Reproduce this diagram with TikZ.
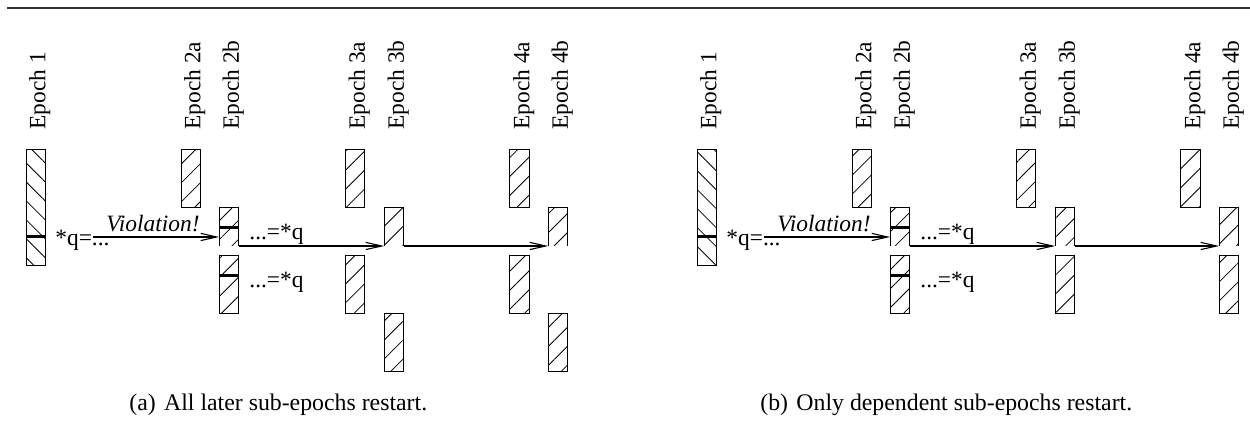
\documentclass[tikz,border=0pt]{standalone}
\usepackage{fontspec}
\setmainfont{Liberation Serif}
\usetikzlibrary{patterns.meta,arrows.meta}
\newcommand\subfig[1]{%
  \node[tallbar] (#1e1) at (26,150) {};
  \node[bar] (#1e2a) at (181,150) {};
  \node[cutbar] (#1e2bu) at (219.25,208) {};
  \node[bar] (#1e2bl) at (219.25,256) {};
  \node[bar] (#1e3au) at (345.25,150) {};
  \node[cutbar] (#1e3bu) at (384.25,208) {};
  \node[bar] (#1e4au) at (509.75,150) {};
  \node[cutbar] (#1e4bu) at (548.25,208) {};
  \foreach \n in {e2bu,e3bu,e4bu}
    \draw[side] (#1\n.south west) -- (#1\n.north west) -- (#1\n.north east) -- (#1\n.south east);
  \draw[mk] (#1e1.west |- 0,237) -- (#1e1.east |- 0,237);
  \draw[mk] (#1e2bu.west |- 0,228) -- (#1e2bu.east |- 0,228);
  \draw[mk] (#1e2bl.west |- 0,276) -- (#1e2bl.east |- 0,276);
  \node[lbl] (#1l1) at (45.3,130) {Epoch 1};
  \node[lbl] (#1l2a) at (200.3,130) {Epoch 2a};
  \node[lbl] (#1l2b) at (238.8,130) {Epoch 2b};
  \node[lbl] (#1l3a) at (364.8,130) {Epoch 3a};
  \node[lbl] (#1l3b) at (403.8,130) {Epoch 3b};
  \node[lbl] (#1l4a) at (529.3,130) {Epoch 4a};
  \node[lbl] (#1l4b) at (567.8,130) {Epoch 4b};
  \node[txt] (#1w) at (55,246) {*q=...};
  \node[txt] (#1v) at (106,232) {\itshape Violation!};
  \node[txt] (#1r1) at (249,240) {...=*q};
  \node[txt] (#1r2) at (249,288) {...=*q};
  \coordinate (#1vs) at (93,237);
  \draw[arr] (#1vs) -- (#1vs -| #1e2bu.west);
  \draw[arr] (#1e2bu.south east) -- (#1e3bu.south west);
  \draw[arr] (#1e3bu.south east) -- (#1e4bu.south west);
}
\begin{document}
\begin{tikzpicture}[x=0.5pt,y=-0.5pt,
  font=\fontsize{11.7}{13}\selectfont,
  hatchF/.style={pattern={Lines[angle=45,distance=6.7pt,line width=0.4pt]}},
  hatchB/.style={pattern={Lines[angle=-45,distance=6.7pt,line width=0.4pt]}},
  bar/.style={draw=black,line width=0.5pt,minimum width=9.75pt,minimum height=29pt,
    inner sep=0pt,outer sep=0pt,anchor=north west,hatchF},
  tallbar/.style={bar,minimum height=58pt,hatchB},
  cutbar/.style={bar,draw=none,minimum height=19pt},
  side/.style={line width=0.5pt},
  mk/.style={line width=1.5pt},
  lbl/.style={rotate=90,anchor=base west,inner sep=0pt},
  txt/.style={anchor=base west,inner sep=0pt},
  captxt/.style={txt,font=\fontsize{11.9}{14}\selectfont},
  arr/.style={line width=0.55pt,-{Straight Barb[length=8pt,width=3.6pt]}}]
\useasboundingbox (0,0) rectangle (1250,421);
\draw[line width=0.8pt,black!80] (7,8) -- (1250,8);
\subfig{a}
\node[bar] (ae3al) at (345.25,256) {};
\node[bar] (ae3bl) at (384.25,314) {};
\node[bar] (ae4al) at (509.75,256) {};
\node[bar] (ae4bl) at (548.25,314) {};
\begin{scope}[shift={(671,0)}]
\subfig{b}
\node[bar] (be3bl) at (384.25,256) {};
\node[bar] (be4bl) at (548.25,256) {};
\end{scope}
\node[captxt] (capa) at (129,411) {(a)\hspace{0.35em}All later sub-epochs restart.};
\node[captxt] (capb) at (760,411) {(b)\hspace{0.35em}Only dependent sub-epochs restart.};
\end{tikzpicture}
\end{document}
